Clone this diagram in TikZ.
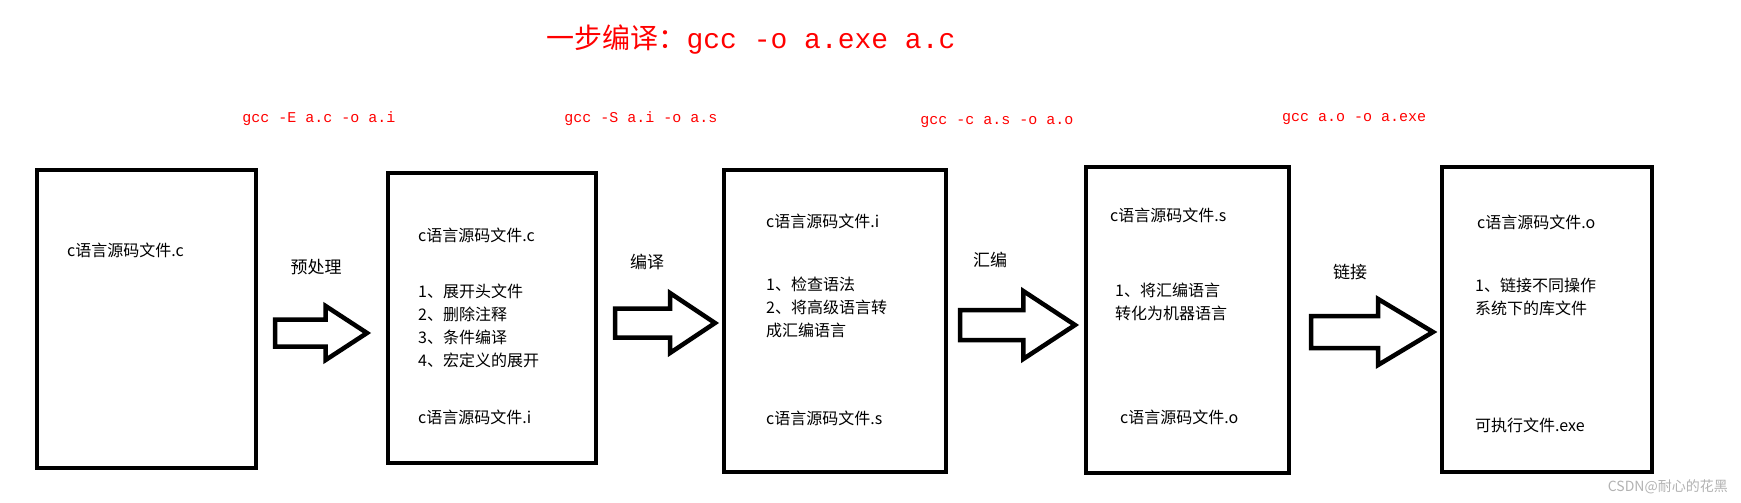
\documentclass[tikz,border=0pt]{standalone}
\usepackage{fontspec}
\setmainfont{Noto Sans CJK SC}
\newfontfamily\codefont{Liberation Mono}
\usetikzlibrary{positioning}

\tikzset{
  filebox/.style={draw, line width=4.5pt},
  boxtext/.style={anchor=west, inner sep=0pt, font=\fontsize{16}{23}\selectfont, align=left},
  steplabel/.style={inner sep=0pt, font=\fontsize{17}{19}\selectfont},
  cmdlabel/.style={inner sep=0pt, red, font=\codefont\fontsize{15}{18}\selectfont},
  bigarrow/.style={draw, line width=4.5pt, line join=miter}
}
% block arrow: left x, centre y, length, head height, shaft height
\newcommand{\blockarrow}[5]{%
  \draw[bigarrow] (#1,#2-#5/2) -- ++(#3*0.55,0) -- ++(0,-#4/2+#5/2)
    -- (#1+#3,#2) -- (#1+#3*0.55,#2+#4/2) -- ++(0,-#4/2+#5/2)
    -- (#1,#2+#5/2) -- cycle;}

\begin{document}
\begin{tikzpicture}[x=1pt, y=-1pt]
\useasboundingbox (0,0) rectangle (1741,503);

\node[red, inner sep=0pt, font=\fontsize{28}{32}\selectfont] (title) at (751,40)
  {一步编译：{\codefont gcc -o a.exe a.c}};

% commands
\node[cmdlabel] (cmdE) at (319,119) {gcc -E a.c -o a.i};
\node[cmdlabel] (cmdS) at (641,119) {gcc -S a.i -o a.s};
\node[cmdlabel] (cmdC) at (997,122) {gcc -c a.s -o a.o};
\node[cmdlabel] (cmdL) at (1354,119) {gcc a.o -o a.exe};

% boxes
\draw[filebox] (37,170) rectangle (256,468);
\draw[filebox] (388,173) rectangle (596,463);
\draw[filebox] (724,170) rectangle (946,472);
\draw[filebox] (1086,167) rectangle (1289,473);
\draw[filebox] (1442,167) rectangle (1652,472);

% box texts
\node[boxtext] (src) at (67,250) {c语言源码文件.c};

\node[boxtext] (pre1) at (418,235) {c语言源码文件.c};
\node[boxtext] (pre2) at (418,326) {1、展开头文件\\2、删除注释\\3、条件编译\\4、宏定义的展开};
\node[boxtext] (pre3) at (418,417) {c语言源码文件.i};

\node[boxtext] (com1) at (766,221) {c语言源码文件.i};
\node[boxtext] (com2) at (766,307) {1、检查语法\\2、将高级语言转\\成汇编语言};
\node[boxtext] (com3) at (766,418) {c语言源码文件.s};

\node[boxtext] (asm1) at (1110,215) {c语言源码文件.s};
\node[boxtext] (asm2) at (1115,302) {1、将汇编语言\\转化为机器语言};
\node[boxtext] (asm3) at (1120,417) {c语言源码文件.o};

\node[boxtext] (lnk1) at (1477,222) {c语言源码文件.o};
\node[boxtext] (lnk2) at (1475,297) {1、链接不同操作\\系统下的库文件};
\node[boxtext] (lnk3) at (1475,425) {可执行文件.exe};

% steps
\node[steplabel] (pre) at (316,267) {预处理};
\node[steplabel] (com) at (647,262) {编译};
\node[steplabel] (asm) at (990,260) {汇编};
\node[steplabel] (lnk) at (1350,272) {链接};

\blockarrow{275}{333}{92}{54}{27}
\blockarrow{615}{323}{100}{60}{29}
\blockarrow{960}{325}{115}{68}{30}
\blockarrow{1311}{332}{122}{66}{32}

\node[gray!60, anchor=east, inner sep=0pt, font=\fontsize{14}{16}\selectfont] (mark) at (1728,487) {CSDN@耐心的花黑};
\end{tikzpicture}
\end{document}
